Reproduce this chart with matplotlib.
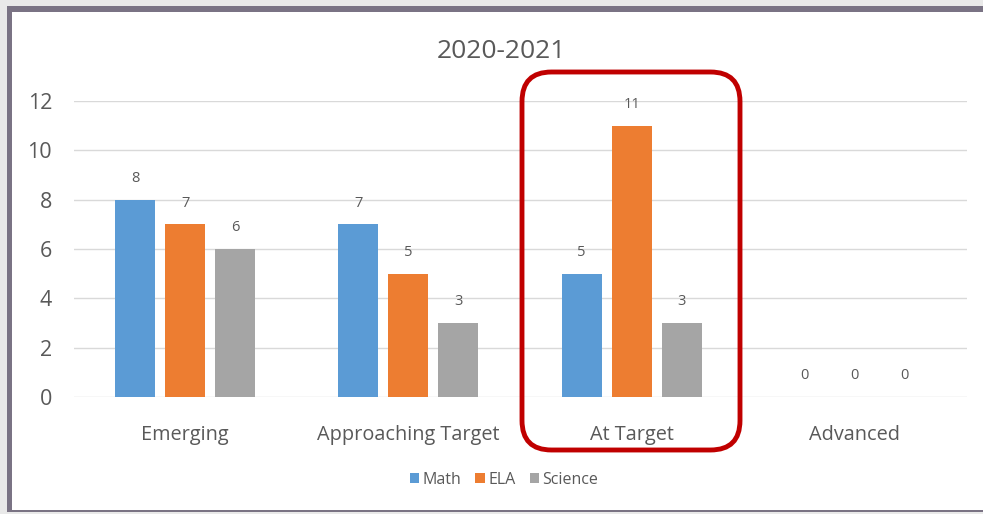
import matplotlib.pyplot as plt
import numpy as np
from matplotlib.patches import FancyBboxPatch, Rectangle

plt.rcParams['font.family'] = ['Open Sans', 'DejaVu Sans']

categories = ["Emerging", "Approaching Target", "At Target", "Advanced"]
series = ["Math", "ELA", "Science"]
math = [8, 7, 5, 0]
ela = [7, 5, 11, 0]
science = [6, 3, 3, 0]
colors = ["#5b9bd5", "#ed7d31", "#a5a5a5"]
text_color = "#595959"

W, H = 983, 514
fig = plt.figure(figsize=(W / 100, H / 100), dpi=100)
fig.patch.set_facecolor("#e9e9e9")

# frame: dark border and white panel
fig.patches.append(Rectangle((7 / W, 2 / H), 1, 1 - 8 / H, transform=fig.transFigure,
                             facecolor="#7a7384", edgecolor="none", zorder=-10))
fig.patches.append(Rectangle((12 / W, 4 / H), 1, 1 - 16 / H, transform=fig.transFigure,
                             facecolor="white", edgecolor="none", zorder=-9))

# axes: left 73.5px, right 966.5px, y=0 at 397px, y=12 at 101px
ax = fig.add_axes([73.5 / W, (H - 397) / H, (966.5 - 73.5) / W, (397 - 101) / H])
ax.set_facecolor("none")

x = np.arange(len(categories))
bw = 0.18
offs = 0.224
for i, (vals, c) in enumerate(zip([math, ela, science], colors)):
    pos = x + (i - 1) * offs
    ax.bar(pos, vals, width=bw, color=c, label=series[i], zorder=3)
    for p, v in zip(pos, vals):
        ax.text(p, v + 0.55, str(v), ha="center", va="bottom", fontsize=10.5, color=text_color)

ax.set_xlim(-0.5, len(categories) - 0.5)
ax.set_ylim(0, 12)
ax.set_yticks(range(0, 13, 2))
ax.yaxis.grid(True, color="#d9d9d9", lw=1)
ax.set_axisbelow(True)
for s in ax.spines.values():
    s.set_visible(False)
ax.tick_params(axis="both", length=0, colors=text_color)
ax.tick_params(axis="y", labelsize=15.5, pad=15.5)
ax.set_xticks(x)
ax.set_xticklabels(categories, fontsize=14.3)
ax.tick_params(axis="x", pad=20)

fig.text(501 / W, 1 - 51 / H, "2020-2021", ha="center", va="center", fontsize=19, color=text_color)

leg = fig.legend(loc="center", bbox_to_anchor=(504 / W, 1 - 480 / H), ncol=3, frameon=False,
                 fontsize=11.5, handlelength=0.6, handleheight=0.6, handletextpad=0.2,
                 columnspacing=0.9)
for t in leg.get_texts():
    t.set_color(text_color)

# red rounded highlight box
box = FancyBboxPatch((522 / W, (H - 450) / H), (740 - 522) / W, (450 - 72) / H,
                     boxstyle="round,pad=0,rounding_size=0.03", transform=fig.transFigure,
                     facecolor="none", edgecolor="#c00000", lw=3.5, zorder=10,
                     mutation_aspect=W / H)
fig.patches.append(box)

fig.savefig("out.png", dpi=100, facecolor=fig.get_facecolor())
